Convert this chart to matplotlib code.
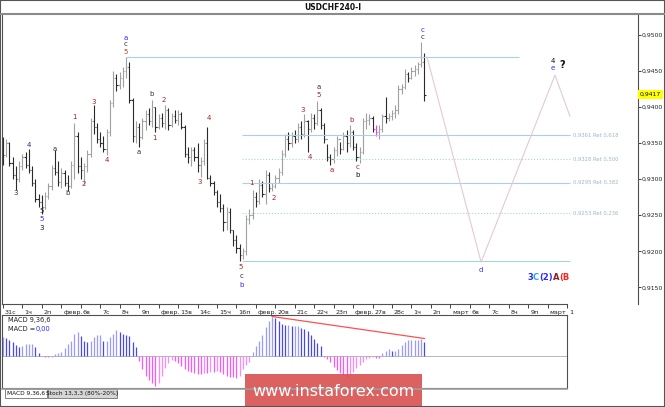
import matplotlib
matplotlib.use('Agg')
import matplotlib.pyplot as plt
import numpy as np
from matplotlib.patches import Rectangle
from matplotlib.lines import Line2D
from matplotlib.transforms import ScaledTranslation

# 4H bars, 6 per day, day 0 = 31 Jan
highs = [.9358, .9356, .9352, .9330, .9318, .9325, .9335, .9338, .9342, .9318,
         .9300, .9280, .9278, .9282, .9295, .9320, .9340, .9325, .9315, .9312,
         .9305, .9325, .9378, .9365, .9330, .9322, .9340, .9385, .9403, .9378,
         .9365, .9360, .9370, .9410, .9450, .9445, .9448, .9455, .9469, .9462,
         .9412, .9380, .9378, .9385, .9395, .9398, .9410, .9400, .9390, .9392,
         .9403, .9398, .9392, .9395, .9396, .9393, .9375, .9345, .9345, .9345,
         .9350, .9330, .9355, .9372, .9305, .9298, .9285, .9280, .9265, .9262,
         .9260, .9230, .9222, .9210, .9205, .9250, .9258, .9285, .9282, .9300,
         .9298, .9313, .9310, .9295, .9306, .9315, .9340, .9362, .9365, .9365,
         .9368, .9378, .9380, .9390, .9382, .9392, .9390, .9408, .9398, .9378,
         .9348, .9335, .9345, .9360, .9352, .9365, .9368, .9375, .9368, .9350,
         .9345, .9385, .9392, .9390, .9388, .9375, .9375, .9390, .9413, .9392,
         .9396, .9402, .9430, .9432, .9452, .9448, .9455, .9458, .9462, .9490,
         .9475]
lows = [.9320, .9330, .9318, .9300, .9285, .9296, .9312, .9315, .9308, .9290,
        .9268, .9262, .9252, .9258, .9272, .9285, .9305, .9290, .9288, .9290,
        .9284, .9288, .9300, .9308, .9300, .9293, .9310, .9330, .9362, .9350,
        .9345, .9338, .9334, .9360, .9400, .9422, .9425, .9428, .9440, .9405,
        .9352, .9350, .9345, .9355, .9368, .9375, .9372, .9365, .9370, .9372,
        .9370, .9368, .9372, .9378, .9375, .9370, .9330, .9322, .9318, .9325,
        .9310, .9303, .9320, .9300, .9290, .9278, .9262, .9255, .9228, .9230,
        .9225, .9208, .9198, .9187, .9190, .9195, .9238, .9245, .9262, .9265,
        .9275, .9265, .9282, .9284, .9288, .9295, .9305, .9330, .9340, .9345,
        .9350, .9352, .9355, .9358, .9337, .9365, .9370, .9375, .9370, .9350,
        .9325, .9320, .9322, .9332, .9335, .9340, .9338, .9345, .9340, .9325,
        .9322, .9335, .9370, .9375, .9365, .9360, .9355, .9365, .9378, .9380,
        .9382, .9385, .9390, .9418, .9425, .9435, .9438, .9443, .9446, .9455,
        .9408]
opens = [.9340, .9333, .9350, .9322, .9305, .9300, .9318, .9330, .9320, .9312,
         .9295, .9272, .9268, .9262, .9276, .9290, .9315, .9310, .9296, .9308,
         .9295, .9290, .9320, .9360, .9318, .9312, .9318, .9335, .9380, .9372,
         .9355, .9350, .9342, .9365, .9405, .9440, .9430, .9440, .9450, .9455,
         .9410, .9360, .9372, .9358, .9380, .9390, .9380, .9400, .9372, .9385,
         .9378, .9395, .9375, .9388, .9382, .9390, .9372, .9335, .9330, .9340,
         .9330, .9320, .9325, .9350, .9302, .9295, .9282, .9268, .9260, .9240,
         .9255, .9230, .9215, .9205, .9195, .9200, .9245, .9250, .9275, .9270,
         .9292, .9280, .9305, .9288, .9290, .9302, .9310, .9335, .9355, .9350,
         .9360, .9355, .9372, .9362, .9380, .9370, .9385, .9378, .9395, .9375,
         .9355, .9330, .9328, .9340, .9355, .9342, .9360, .9350, .9365, .9345,
         .9330, .9338, .9380, .9382, .9385, .9370, .9365, .9370, .9388, .9385,
         .9388, .9392, .9395, .9425, .9428, .9445, .9440, .9450, .9452, .9460,
         .9462]
closes = [.9333, .9350, .9322, .9305, .9300, .9318, .9330, .9320, .9312, .9295,
          .9272, .9268, .9262, .9276, .9290, .9315, .9310, .9296, .9308, .9295,
          .9290, .9320, .9360, .9318, .9312, .9318, .9335, .9380, .9372, .9355,
          .9350, .9342, .9365, .9405, .9440, .9430, .9440, .9450, .9455, .9410,
          .9360, .9372, .9358, .9380, .9390, .9380, .9400, .9372, .9385, .9378,
          .9395, .9375, .9388, .9382, .9390, .9372, .9335, .9330, .9340, .9330,
          .9320, .9325, .9350, .9302, .9295, .9282, .9268, .9260, .9240, .9255,
          .9230, .9215, .9205, .9195, .9200, .9245, .9250, .9275, .9270, .9292,
          .9280, .9305, .9288, .9290, .9302, .9310, .9335, .9355, .9350, .9360,
          .9355, .9372, .9362, .9380, .9370, .9385, .9378, .9395, .9375, .9355,
          .9330, .9328, .9340, .9355, .9342, .9360, .9350, .9365, .9345, .9330,
          .9338, .9380, .9382, .9385, .9370, .9365, .9370, .9388, .9385, .9388,
          .9392, .9395, .9425, .9428, .9445, .9440, .9450, .9452, .9460, .9462,
          .9417]
highlight_bar = 115  # pink bar

macd = [19, 18, 16, 14, 11, 9, 10, 12, 12, 12, 9, 3, 0.5, -1, -1, -0.5, 2, 3, 4, 8,
        12, 15, 22, 24, 20, 15, 14, 15, 19, 21, 21, 15, 15, 19, 22, 26, 24, 22, 21, 20,
        14, 9, -5, -13, -20, -24, -27, -30, -27, -20, -12, -7, -4, -5, -7, -10, -13, -15, -16, -17,
        -18, -18, -17, -17, -16, -16, -15, -16, -18, -20, -21, -21, -22, -20, -13, -9, -6, 4, 10, 15,
        21, 29, 35, 39, 38, 35, 32, 31, 31, 30, 30, 30, 28, 27, 25, 21, 17, 13, 10, -1,
        -3, -6, -11, -14, -17, -19, -21, -19, -16, -12, -9, -6, -3, -2, -1, -2, -2, 3, 5, 7,
        5, 5, 7, 11, 14, 16, 16, 16, 16, 17, 14]
macd_trend_bars = [83, 130]
macd_trend_vals = [39.5, 17.5]

day_labels = ["31с", "1ч", "2п", "февр.", "6в", "7с", "8ч", "9п", "февр.", "13в",
              "14с", "15ч", "16п", "февр.", "20в", "21с", "22ч", "23п", "февр.", "27в",
              "28с", "1ч", "2п", "март", "6в", "7с", "8ч", "9п", "март", "1"]

fib_top = 0.9469
fib_base = 0.9187
fib_levels = [0.9361, 0.9328, 0.9295, 0.9253]
fib_ratios = ["0,618", "0,500", "0,382", "0,236"]

# projected path (day, price)
path_days = [21.8, 24.58, 28.38, 29.15]
path_prices = [0.9469, 0.9185, 0.9444, 0.9387]

current_price = 0.9417

DK, RD, BL = '#333333', '#a82020', '#2a2aff'
wave_labels = [
    (0.67, .9281, "3", DK), (1.34, .9347, "4", '#203080'),
    (2.0, .9256, "5", DK), (2.0, .9245, "5", BL), (2.0, .9232, "3", '#111111'),
    (2.67, .9342, "a", DK), (3.34, .9281, "b", DK),
    (3.70, .9386, "1", RD), (4.16, .9293, "2", RD), (4.68, .9407, "3", RD), (5.35, .9326, "4", RD),
    (6.32, .9495, "a", BL), (6.32, .9487, "c", DK), (6.32, .9476, "5", '#c04020'),
    (6.99, .9337, "a", DK), (7.66, .9418, "b", DK),
    (7.81, .9357, "1", RD), (8.28, .9410, "2", RD), (10.13, .9296, "3", RD), (10.59, .9385, "4", RD),
    (12.24, .9178, "5", RD), (12.24, .9166, "c", DK), (12.24, .9153, "b", BL),
    (12.75, .9295, "1", RD), (13.93, .9274, "2", RD), (15.42, .9396, "3", RD), (15.78, .9331, "4", RD),
    (16.25, .9428, "a", DK), (16.25, .9416, "5", RD),
    (16.92, .9313, "a", RD), (17.94, .9382, "b", RD),
    (18.25, .9317, "c", RD), (18.25, .9306, "b", '#111111'),
    (21.59, .9506, "c", BL), (21.59, .9497, "c", DK),
    (28.28, .9464, "4", '#111111'), (28.28, .9454, "e", BL),
    (24.58, .9174, "d", BL),
]

PXD = 19.45   # pixels per day
X0 = 3.0      # pixel of day 0
W, H = 665, 407


def fx(px):
    return px / W


def fy(py):
    return 1 - py / H


def day_of(px):
    return (px - X0) / PXD


plt.rcParams['font.family'] = ['DejaVu Sans']
fig = plt.figure(figsize=(W / 100, H / 100), dpi=100)

# main price panel
ax = fig.add_axes([fx(2), fy(304), fx(636), 290 / H])
ax.set_xlim(day_of(2), day_of(638))
ax.set_ylim(0.91270, 0.95286)

n = len(highs)
xs = np.arange(n) / 6.0
o = np.array(opens)
c = np.array(closes)
cols = np.where(c >= o, '#a0a0a0', '#2a2a2a').astype(object)
cols[highlight_bar] = '#ff30ff'
tw = 0.065
ax.vlines(xs, lows, highs, colors=list(cols), lw=0.8)
ax.hlines(opens, xs - tw, xs, colors=list(cols), lw=0.8)
ax.hlines(closes, xs, xs + tw, colors=list(cols), lw=0.8)

fib_col = '#a9d2e0'
ax.hlines(fib_top, day_of(126), day_of(519), color=fib_col, lw=0.8)
ax.hlines(fib_base, day_of(242), day_of(570), color=fib_col, lw=0.8)
for lv, r in zip(fib_levels, fib_ratios):
    ls = ':' if r in ("0,500", "0,236") else '-'
    ax.hlines(lv, day_of(242), day_of(570), color=fib_col, lw=0.8, linestyles=ls)
    ax.text(day_of(573), lv, f"{lv:.4f}".replace('.', ',') + " Ret " + r,
            fontsize=3.8, color='#9fb8cc', ha='left', va='center')

ax.plot(path_days, path_prices, color='#e2cbd2', lw=0.8)

for d, p, t, col in wave_labels:
    ax.text(d, p, t, fontsize=5, color=col, ha='center', va='center')
ax.text(day_of(562), .9458, "?", fontsize=7, fontweight='bold', color='#111111',
        ha='center', va='center')

# composite label 3C(2)A(B
parts = [("3", BL), ("C", '#2aa0ff'), ("(2)", BL), ("A", '#8a2020'), ("(B", '#ff2020')]
tx = day_of(527)
for t, col in parts:
    txt = ax.text(tx, .9164, t, fontsize=6, fontweight='bold', color=col,
                  ha='left', va='center')
    fig.canvas.draw()
    bb = txt.get_window_extent()
    tx = ax.transData.inverted().transform((bb.x1, bb.y0))[0]

# axes styling
ax.spines['top'].set_visible(False)
for s in ['left', 'right', 'bottom']:
    ax.spines[s].set_color('#505050')
    ax.spines[s].set_linewidth(0.8)
ax.spines['bottom'].set_bounds(day_of(2), day_of(567))

ax.yaxis.tick_right()
yt = np.arange(0.915, 0.9501, 0.005)
ax.set_yticks(yt)
ax.set_yticklabels([f"{v:.4f}".replace('.', ',') for v in yt])
ax.tick_params(axis='y', length=2, width=0.6, pad=0.5, labelsize=4.4, colors='#222222')

ax.set_xticks(np.arange(len(day_labels)))
ax.set_xticklabels(day_labels, ha='left')
ax.tick_params(axis='x', length=3, width=0.6, pad=1, labelsize=4.6, colors='#222222')
off = ScaledTranslation(2 / 100, 0, fig.dpi_scale_trans)
for lbl in ax.get_xticklabels():
    lbl.set_transform(lbl.get_transform() + off)

ax.annotate(f"{current_price:.4f}".replace('.', ','), xy=(1, current_price),
            xycoords=ax.get_yaxis_transform(), xytext=(1.2, 0), textcoords='offset points',
            fontsize=4.4, ha='left', va='center', color='#111111',
            bbox=dict(boxstyle='square,pad=0.3', fc='#ffff00', ec='none'))

# MACD panel
ax2 = fig.add_axes([fx(2), fy(388), fx(565), 73 / H])
ax2.set_xlim(day_of(2), day_of(567))
ax2.set_ylim(-32, 41)
mv = np.array(macd)
prev = np.concatenate([[mv[0]], mv[:-1]])
mcols = []
for v, pv in zip(mv, prev):
    if v >= 0:
        mcols.append('#9a9aff' if v >= pv else '#4848ee')
    else:
        mcols.append('#ff55ff' if v <= pv else '#ff88ff')
ax2.vlines(xs, 0, mv, colors=mcols, lw=0.9)
ax2.axhline(0, color='#9a9a9a', lw=0.5, zorder=0)
ax2.plot(np.array(macd_trend_bars) / 6.0, macd_trend_vals, color='#ff5050', lw=0.9)
ax2.set_xticks([])
ax2.set_yticks([])
for s in ax2.spines.values():
    s.set_color('#505050')
    s.set_linewidth(0.8)
ax2.text(0.01, 0.93, "MACD 9,36,6", transform=ax2.transAxes, fontsize=4.8,
         color='#222222', ha='left', va='center')
t1 = ax2.text(0.01, 0.81, "MACD =", transform=ax2.transAxes, fontsize=4.8,
              color='#222222', ha='left', va='center')
fig.canvas.draw()
bb = t1.get_window_extent()
ax2.text(ax2.transAxes.inverted().transform((bb.x1 + 1, bb.y0))[0], 0.81, "0,00",
         transform=ax2.transAxes, fontsize=4.8, color='#2a2aff', ha='left', va='center')

# tabs under MACD
fig.add_artist(Line2D([fx(2), fx(567)], [fy(389)] * 2, color='#a0a0a0', lw=1.2))
fig.add_artist(Rectangle((fx(5), fy(398)), fx(42), 9 / H, fc='white', ec='#707070', lw=0.6))
fig.text(fx(26), fy(393.5), "MACD 9,36,6", fontsize=4.2, ha='center', va='center', color='#111111')
fig.add_artist(Rectangle((fx(48), fy(398)), fx(69), 9 / H, fc='#d6d6d6', ec='#707070', lw=0.6))
fig.text(fx(82.5), fy(393.5), "Stoch 13,3,3 (80%-20%)", fontsize=4.2, ha='center', va='center',
         color='#111111')

# title and frame
fig.text(0.5, fy(7), "USDCHF240-I", fontsize=5.5, fontweight='bold', ha='center', va='center',
         color='#111111')
fig.add_artist(Line2D([0, 1], [fy(13.5)] * 2, color='#8a8a8a', lw=1.5))

# watermark banner
fig.add_artist(Rectangle((fx(245), fy(407)), fx(177), 33 / H, fc='#d84c4c', ec='none', alpha=0.88))
fig.text(fx(333), fy(391), "www.instaforex.com", fontsize=11.5, color='white',
         ha='center', va='center')

fig.add_artist(Rectangle((0, 0), 1, 1, transform=fig.transFigure, fill=False,
                         ec='#555555', lw=1.5))

fig.savefig('out.png', dpi=100)
